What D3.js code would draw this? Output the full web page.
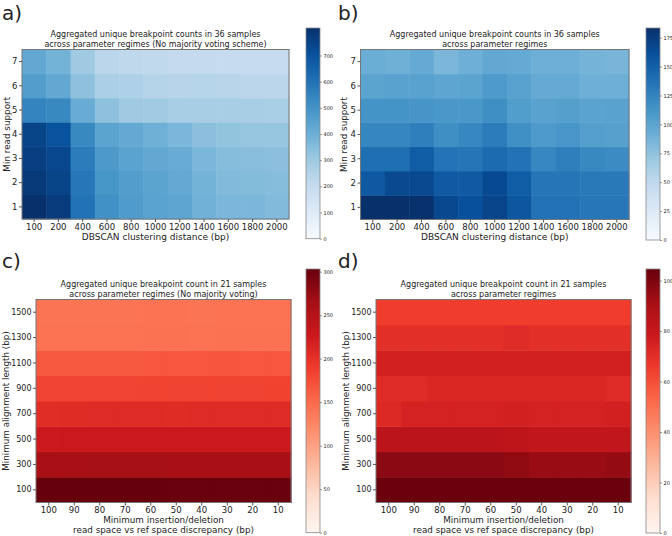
<!DOCTYPE html>
<html>
<head>
<meta charset="utf-8">
<script src="https://cdn.jsdelivr.net/npm/d3@7"></script>
<style>
  html, body { margin: 0; padding: 0; background: #fff; }
  svg text { font-family: "DejaVu Sans", sans-serif; fill: #222; }
</style>
</head>
<body>
<svg id="chart" width="672" height="536"></svg>
<script>
// ---------- data ----------
const dbscanDistances = [100, 200, 400, 600, 800, 1000, 1200, 1400, 1600, 1800, 2000];
const minReadSupport = [1, 2, 3, 4, 5, 6, 7];
const indelDiscrepancy = [100, 90, 80, 70, 60, 50, 40, 30, 20, 10];
const minAlignLength = [100, 300, 500, 700, 900, 1100, 1300, 1500];

// panel a: rows = min read support 1..7, cols = DBSCAN distance
const countsA = [
  [805, 770, 600, 505, 470, 445, 435, 390, 370, 370, 360],
  [775, 745, 585, 490, 465, 440, 420, 385, 360, 355, 350],
  [760, 735, 570, 475, 445, 425, 410, 370, 350, 345, 340],
  [745, 700, 530, 440, 420, 395, 370, 340, 325, 320, 320],
  [545, 530, 410, 335, 300, 295, 280, 280, 278, 278, 275],
  [465, 425, 335, 270, 260, 245, 240, 238, 235, 230, 230],
  [425, 385, 300, 230, 220, 215, 205, 205, 200, 200, 200]
];
// panel b
const countsB = [
  [183, 183, 182, 167, 161, 169, 156, 137, 137, 134, 134],
  [155, 166, 166, 154, 154, 165, 152, 135, 135, 132, 132],
  [139, 139, 152, 136, 135, 142, 137, 122, 128, 121, 119],
  [123, 123, 128, 117, 122, 130, 116, 108, 111, 105, 103],
  [113, 113, 112, 110, 110, 117, 106, 102, 104, 101, 102],
  [100, 102, 102, 99, 100, 108, 102, 95, 95, 91, 91],
  [92, 90, 95, 84, 91, 97, 95, 91, 91, 87, 86]
];
// panel c: rows = min alignment length 100..1500, cols = discrepancy 100..10
const countsC = [
  [303, 303, 303, 303, 303, 302, 302, 302, 302, 302],
  [262, 262, 263, 263, 263, 262, 262, 262, 261, 262],
  [226, 227, 227, 227, 227, 227, 227, 227, 227, 227],
  [205, 206, 207, 207, 207, 206, 207, 207, 207, 207],
  [182, 182, 182, 182, 183, 183, 183, 183, 183, 184],
  [166, 166, 166, 166, 167, 167, 167, 168, 167, 167],
  [143, 143, 143, 143, 144, 144, 143, 144, 144, 144],
  [142, 142, 142, 142, 143, 143, 142, 143, 143, 143]
];
// panel d
const countsD = [
  [104, 104, 104, 104, 104, 104, 104, 104, 104, 104],
  [97, 97, 97, 97, 97, 96, 94, 94, 94, 95],
  [84, 84, 84, 84, 84, 83, 82, 82, 82, 82],
  [72, 75, 75, 75, 75, 76, 75, 75, 75, 76],
  [71, 71, 73, 73, 73, 73, 73, 73, 73, 71],
  [76, 76, 76, 76, 76, 76, 76, 76, 76, 76],
  [70, 70, 70, 70, 70, 71, 70, 70, 70, 70],
  [65, 65, 65, 65, 65, 65, 65, 65, 65, 65]
];
const ticksA = [0, 100, 200, 300, 400, 500, 600, 700];
const ticksB = [0, 25, 50, 75, 100, 125, 150, 175];
const ticksC = [0, 50, 100, 150, 200, 250, 300];
const ticksD = [0, 20, 40, 60, 80, 100];

// ---------- colormaps (matplotlib Blues / Reds: linear segments) ----------
const bluesColors = ["#f7fbff","#deebf7","#c6dbef","#9ecae1","#6baed6","#4292c6","#2171b5","#08519c","#08306b"];
const redsColors  = ["#fff5f0","#fee0d2","#fcbba1","#fc9272","#fb6a4a","#ef3b2c","#cb181d","#a50f15","#67000d"];
const stops = d3.range(9).map(i => i / 8);

const svg = d3.select("#chart");

function panel(cfg) {
  const g = svg.append("g");
  const x = d3.scaleBand().domain(cfg.xCats).range([cfg.x0, cfg.x1]);
  const y = d3.scaleBand().domain(cfg.yCats).range([cfg.y1, cfg.y0]);
  const cmap = d3.scaleLinear().domain(stops.map(s => s * cfg.vmax)).range(cfg.colors)
    .interpolate(d3.interpolateRgb).clamp(true);

  const cells = [];
  cfg.values.forEach((row, ri) => row.forEach((v, ci) => cells.push({r: cfg.yCats[ri], c: cfg.xCats[ci], v})));
  g.selectAll("rect.cell").data(cells).join("rect")
    .attr("class", "cell")
    .attr("x", d => x(d.c)).attr("y", d => y(d.r))
    .attr("width", x.bandwidth() + 0.5).attr("height", y.bandwidth() + 0.5)
    .attr("fill", d => cmap(d.v));

  g.append("rect").attr("x", cfg.x0).attr("y", cfg.y0)
    .attr("width", cfg.x1 - cfg.x0).attr("height", cfg.y1 - cfg.y0)
    .attr("fill", "none").attr("stroke", "#777").attr("stroke-width", 1);

  const xa = g.append("g").attr("transform", `translate(0,${cfg.y1})`)
    .call(d3.axisBottom(x).tickSize(3).tickPadding(1.5));
  xa.select(".domain").remove();
  xa.selectAll("line").attr("stroke", "#555");
  xa.selectAll("text").attr("font-size", cfg.tickFont).attr("fill", "#222");

  const ya = g.append("g").attr("transform", `translate(${cfg.x0},0)`)
    .call(d3.axisLeft(y).tickSize(3).tickPadding(1.5));
  ya.select(".domain").remove();
  ya.selectAll("line").attr("stroke", "#555");
  ya.selectAll("text").attr("font-size", cfg.yTickFont).attr("fill", "#222");

  const cx = (cfg.x0 + cfg.x1) / 2;
  cfg.title.forEach((t, i) => {
    g.append("text").attr("x", cx).attr("y", cfg.titleY + i * 9.5)
      .attr("text-anchor", "middle").attr("font-size", 8).text(t);
  });
  cfg.xLabel.forEach((t, i) => {
    g.append("text").attr("x", cx).attr("y", cfg.xLabelY + i * 10)
      .attr("text-anchor", "middle").attr("font-size", cfg.labelFont).text(t);
  });
  g.append("text")
    .attr("transform", `translate(${cfg.yLabelX},${(cfg.y0 + cfg.y1) / 2}) rotate(-90)`)
    .attr("text-anchor", "middle").attr("font-size", cfg.yLabelFont).text(cfg.yLabel);

  // panel letter
  g.append("text").attr("x", cfg.letterX).attr("y", cfg.letterY)
    .attr("font-size", 20).text(cfg.letter);

  // colorbar
  const gid = "grad" + cfg.letter.replace(")", "");
  const grad = svg.append("defs").append("linearGradient").attr("id", gid)
    .attr("x1", 0).attr("y1", 1).attr("x2", 0).attr("y2", 0);
  grad.selectAll("stop").data(stops).join("stop")
    .attr("offset", d => d).attr("stop-color", (d, i) => cfg.colors[i]);
  g.append("rect").attr("x", cfg.cbX).attr("y", cfg.cbTop)
    .attr("width", cfg.cbW).attr("height", cfg.cbBot - cfg.cbTop)
    .attr("fill", `url(#${gid})`).attr("stroke", "#888").attr("stroke-width", 0.8);
  const cs = d3.scaleLinear().domain([0, cfg.vmax]).range([cfg.cbBot, cfg.cbTop]);
  const ca = g.append("g").attr("transform", `translate(${cfg.cbX + cfg.cbW},0)`)
    .call(d3.axisRight(cs).tickValues(cfg.cbTicks).tickSize(2).tickPadding(1.5));
  ca.select(".domain").remove();
  ca.selectAll("line").attr("stroke", "#555").attr("stroke-width", 0.6);
  ca.selectAll("text").attr("font-size", 5).attr("fill", "#333");
}

panel({
  letter: "a)", letterX: 2, letterY: 20,
  xCats: dbscanDistances, yCats: minReadSupport, values: countsA, vmax: 805, colors: bluesColors,
  x0: 22, x1: 289, y0: 49.5, y1: 219,
  title: ["Aggregated unique breakpoint counts in 36 samples", "across parameter regimes (No majority voting scheme)"],
  titleY: 37, xLabel: ["DBSCAN clustering distance (bp)"], xLabelY: 240, yLabel: "Min read support", yLabelX: 10,
  tickFont: 8.5, yTickFont: 8.5, labelFont: 9, yLabelFont: 8.8,
  cbX: 306, cbW: 14, cbTop: 28, cbBot: 238.7, cbTicks: ticksA
});
panel({
  letter: "b)", letterX: 338, letterY: 20,
  xCats: dbscanDistances, yCats: minReadSupport, values: countsB, vmax: 183.4, colors: bluesColors,
  x0: 360.5, x1: 629, y0: 49.5, y1: 219.5,
  title: ["Aggregated unique breakpoint counts in 36 samples", "across parameter regimes"],
  titleY: 37, xLabel: ["DBSCAN clustering distance (bp)"], xLabelY: 240, yLabel: "Min read support", yLabelX: 347,
  tickFont: 8.5, yTickFont: 8.5, labelFont: 9, yLabelFont: 8.8,
  cbX: 646, cbW: 14, cbTop: 28, cbBot: 240, cbTicks: ticksB
});
panel({
  letter: "c)", letterX: 2, letterY: 268,
  xCats: indelDiscrepancy, yCats: minAlignLength, values: countsC, vmax: 303, colors: redsColors,
  x0: 36, x1: 291, y0: 299.5, y1: 502.5,
  title: ["Aggregated unique breakpoint count in 21 samples", "across parameter regimes (No majority voting)"],
  titleY: 287, xLabel: ["Minimum insertion/deletion", "read space vs ref space discrepancy (bp)"], xLabelY: 523,
  yLabel: "Minimum alignment length (bp)", yLabelX: 9,
  tickFont: 8.5, yTickFont: 8, labelFont: 8.8, yLabelFont: 8.8,
  cbX: 306, cbW: 14, cbTop: 269, cbBot: 532.7, cbTicks: ticksC
});
panel({
  letter: "d)", letterX: 338, letterY: 268,
  xCats: indelDiscrepancy, yCats: minAlignLength, values: countsD, vmax: 104.6, colors: redsColors,
  x0: 376, x1: 631, y0: 299.5, y1: 502.5,
  title: ["Aggregated unique breakpoint count in 21 samples", "across parameter regimes"],
  titleY: 287, xLabel: ["Minimum insertion/deletion", "read space vs ref space discrepancy (bp)"], xLabelY: 523,
  yLabel: "Minimum alignment length (bp)", yLabelX: 349,
  tickFont: 8.5, yTickFont: 8, labelFont: 8.8, yLabelFont: 8.8,
  cbX: 646, cbW: 14, cbTop: 269, cbBot: 533, cbTicks: ticksD
});
</script>
</body>
</html>
